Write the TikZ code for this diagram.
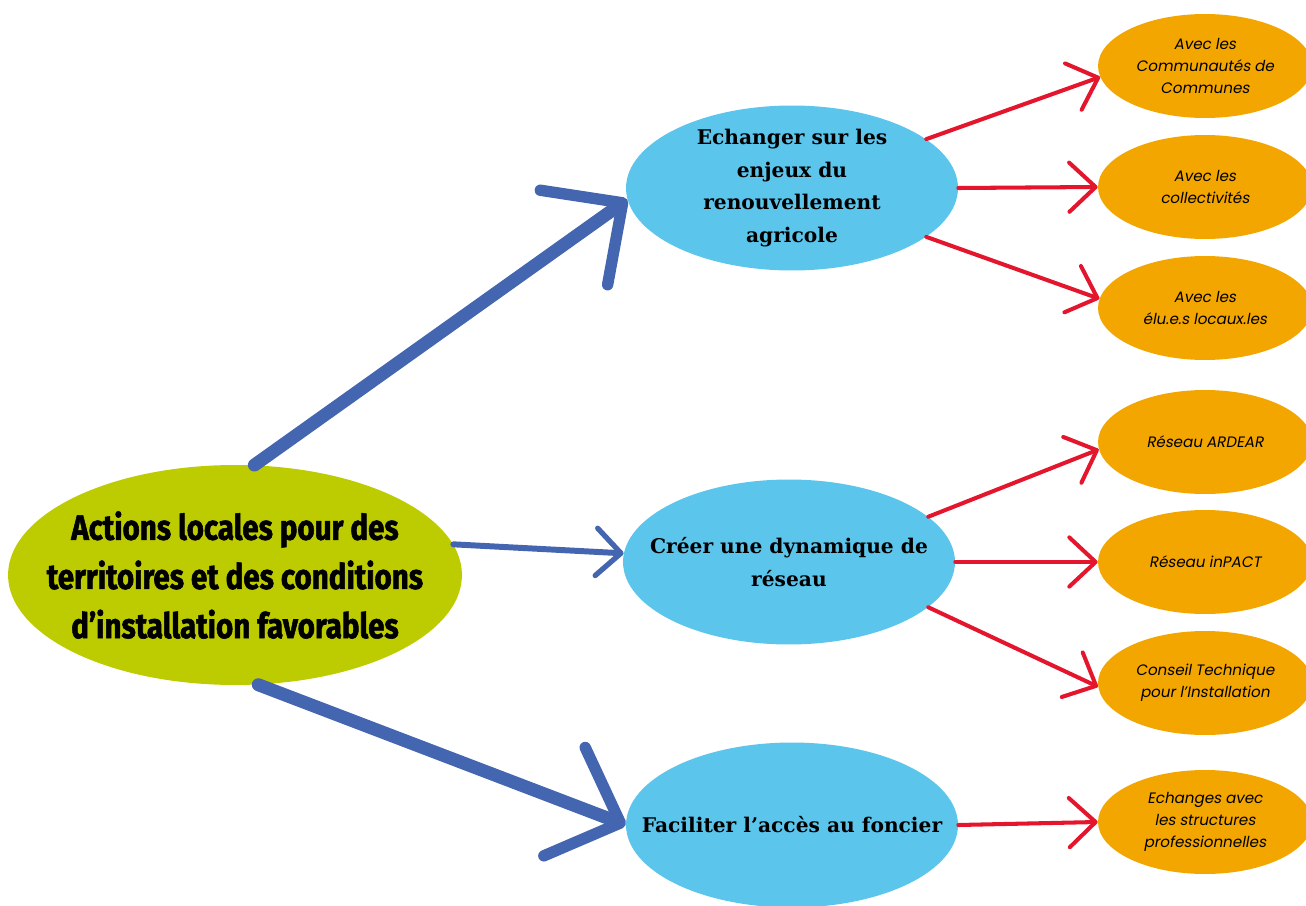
\documentclass[tikz,border=0pt]{standalone}
\usepackage{fontspec}
\usepackage{tikz}
\usetikzlibrary{shapes.geometric,arrows.meta}
\newfontfamily\rootfont[FakeStretch=0.84,BoldFeatures={FakeBold=1.6}]{Fira Sans}
\newfontfamily\themefont{DejaVu Serif}
\newfontfamily\leaffont[AutoFakeSlant=0.18]{Poppins}
\definecolor{rootgreen}{HTML}{BDCC00}
\definecolor{themeblue}{HTML}{5BC5EC}
\definecolor{leaforange}{HTML}{F3A600}
\definecolor{brushblue}{HTML}{4465B0}
\definecolor{linkred}{HTML}{E3162E}

\begin{document}
\begin{tikzpicture}[x=0.02cm,y=-0.02cm,
    root/.style={ellipse,fill=rootgreen,minimum width=9.08cm,minimum height=4.4cm,inner sep=0pt},
    roottext/.style={align=center,font=\rootfont\bfseries\fontsize{20}{28}\selectfont},
    theme/.style={ellipse,fill=themeblue,minimum width=6.64cm,minimum height=3.3cm,inner sep=0pt},
    themetext/.style={align=center,font=\themefont\bfseries\fontsize{11.5}{18.5}\selectfont},
    leaf/.style={ellipse,fill=leaforange,minimum width=4.28cm,minimum height=2.08cm,inner sep=0pt},
    leaftext/.style={align=center,font=\leaffont\itshape\fontsize{8.6}{12.6}\selectfont},
    brush/.style={draw=brushblue,line width=7.4pt,line cap=round,
      -{Straight Barb[length=34pt,width=66pt,line width=6.5pt,round]}},
    thinbrush/.style={draw=brushblue,line width=3.4pt,line cap=round,
      -{Straight Barb[length=14pt,width=27pt,line width=3pt,round]}},
    link/.style={draw=linkred,line width=2.3pt,line cap=round,
      -{Straight Barb[length=15pt,width=28pt,line width=2.3pt,round]}}]
  \useasboundingbox (0,0) rectangle (1306,906);
  % root
  \node[root,label={[roottext]center:Actions locales pour des\\territoires et des conditions\\d’installation favorables}] (act) at (235,575) {};
  % themes
  \node[theme,label={[themetext]center:Echanger sur les\\enjeux du\\renouvellement\\agricole}] (ech) at (792,188) {};
  \node[theme,label={[themetext]center:Créer une dynamique de\\réseau}] (res) at (789,562) {};
  \node[theme,label={[themetext]center:Faciliter l’accès au foncier}] (fon) at (792,825) {};
  % leaves
  \node[leaf,label={[leaftext]center:Avec les\\Communautés de\\Communes}] (com) at (1205,66) {};
  \node[leaf,label={[leaftext]center:Avec les\\collectivités}] (col) at (1205,187) {};
  \node[leaf,label={[leaftext]center:Avec les\\élu.e.s locaux.les}] (elu) at (1205,308) {};
  \node[leaf,label={[leaftext]center:Réseau ARDEAR}] (ard) at (1205,442) {};
  \node[leaf,label={[leaftext]center:Réseau inPACT}] (inp) at (1205,562) {};
  \node[leaf,label={[leaftext]center:Conseil Technique\\pour l’Installation}] (cti) at (1205,683) {};
  \node[leaf,label={[leaftext]center:Echanges avec\\les structures\\professionnelles}] (pro) at (1205,822) {};
  % blue arrows
  \draw[brush] (act.80) -- (ech.184);
  \draw[thinbrush] (act.8) -- (res.177);
  \draw[brush] (act.-78) -- (fon.west);
  % red arrows
  \draw[link] (ech.20) -- (com.186);
  \draw[link] (ech.east) -- (col.west);
  \draw[link] (ech.-20) -- (elu.175);
  \draw[link] (res.18) -- (ard.184);
  \draw[link] (res.east) -- (inp.west);
  \draw[link] (res.-18) -- (cti.182);
  \draw[link] (fon.east) -- (pro.west);
\end{tikzpicture}
\end{document}
